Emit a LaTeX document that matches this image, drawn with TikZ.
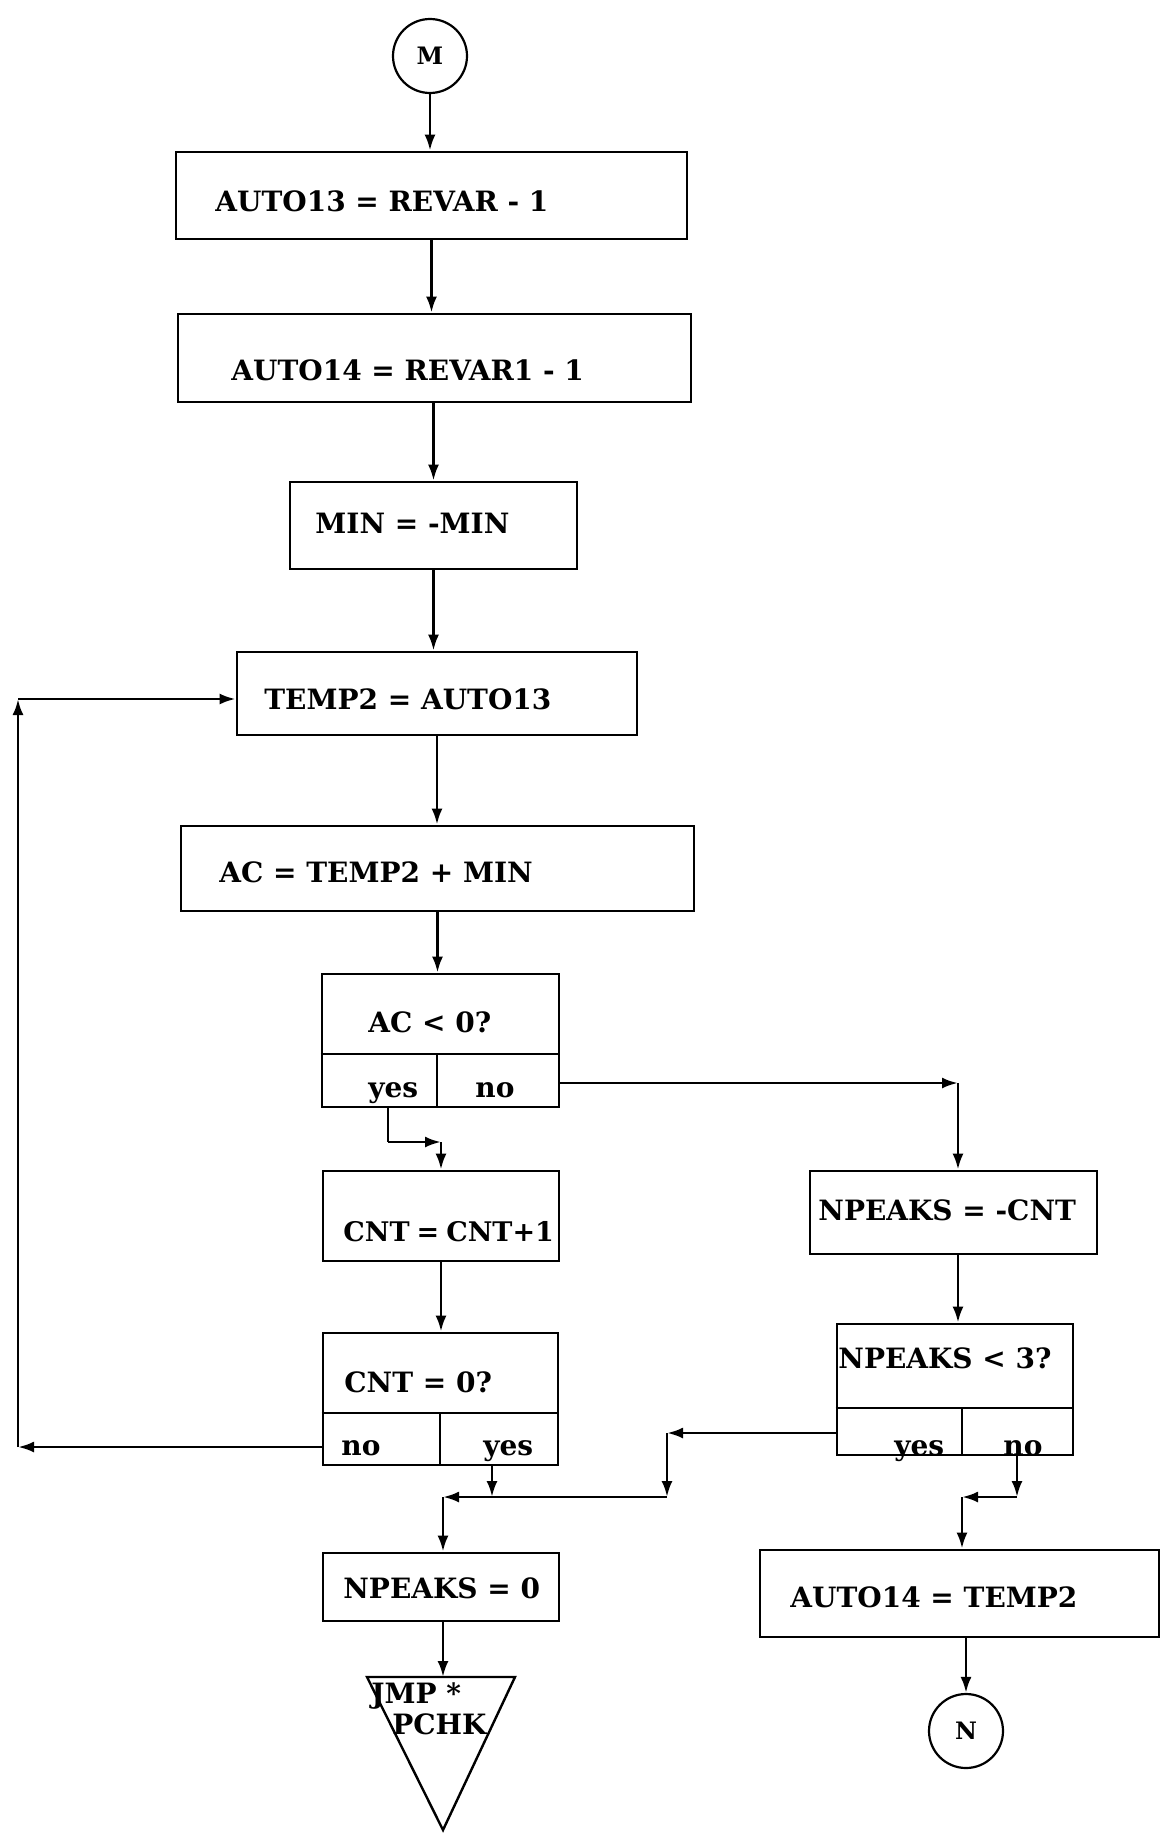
\documentclass[tikz,border=0pt]{standalone}
\usepackage{fontspec}
\setmainfont{DejaVu Serif}
\usetikzlibrary{arrows.meta}
\begin{document}
\begin{tikzpicture}[x=1pt,y=-1pt,
  line width=2.8pt,
  box/.style={draw, rectangle, inner sep=0pt, line width=2.8pt},
  txt/.style={anchor=base west, inner sep=0pt, font=\fontsize{28}{32}\selectfont\bfseries},
  arr/.style={-{Latex[length=16pt,width=11pt]}, line width=2.8pt},
  conn/.style={draw, circle, line width=2.2pt, minimum size=74pt, inner sep=0pt, font=\fontsize{24}{28}\selectfont\bfseries}]
\useasboundingbox[fill=white] (0,0) rectangle (1171,1836);

% connectors (circles)
\node[conn] (M) at (430,56) {M};
\node[conn] (N) at (966,1731) {N};

% process boxes
\node[box, minimum width=511pt, minimum height=87pt] (b1) at (431.5,195.5) {};
\node[txt] (t1) at (214,211) {AUTO13 = REVAR - 1};
\node[box, minimum width=513pt, minimum height=88pt] (b2) at (434.5,358) {};
\node[txt] (t2) at (230,380) {AUTO14 = REVAR1 - 1};
\node[box, minimum width=287pt, minimum height=87pt] (b3) at (433.5,525.5) {};
\node[txt] (t3) at (314,533) {MIN = -MIN};
\node[box, minimum width=400pt, minimum height=83pt] (b4) at (437,693.5) {};
\node[txt] (t4) at (263,709) {TEMP2 = AUTO13};
\node[box, minimum width=513pt, minimum height=85pt] (b5) at (437.5,868.5) {};
\node[txt] (t5) at (218,882) {AC = TEMP2 + MIN};

% decision AC<0?
\node[box, minimum width=237pt, minimum height=133pt] (d1) at (440.5,1040.5) {};
\draw (d1.west |- 0,1054) -- (d1.east |- 0,1054);
\draw (437,1054) -- (437,1107);
\node[txt] (q1) at (367,1032) {AC < 0?};
\node[txt] (y1) at (367,1097) {yes};
\node[txt] (n1) at (474,1097) {no};

\node[box, minimum width=236pt, minimum height=90pt] (b6) at (441,1216) {};
\node[txt, font=\fontsize{27}{32}\selectfont\bfseries] (t6) at (342,1241) {CNT\hspace{7pt}=\hspace{7pt}CNT+1};

% decision CNT=0?
\node[box, minimum width=235pt, minimum height=132pt] (d2) at (440.5,1399) {};
\draw (d2.west |- 0,1413) -- (d2.east |- 0,1413);
\draw (440,1413) -- (440,1465);
\node[txt] (q2) at (343,1392) {CNT = 0?};
\node[txt] (n2) at (340,1455) {no};
\node[txt] (y2) at (482,1455) {yes};

\node[box, minimum width=236pt, minimum height=68pt] (b7) at (441,1587) {};
\node[txt] (t7) at (342,1598) {NPEAKS = 0};

\node[box, minimum width=287pt, minimum height=83pt] (b8) at (953.5,1212.5) {};
\node[txt] (t8) at (817,1220) {NPEAKS = -CNT};

% decision NPEAKS<3?
\node[box, minimum width=236pt, minimum height=131pt] (d3) at (955,1389.5) {};
\draw (d3.west |- 0,1408) -- (d3.east |- 0,1408);
\draw (962,1408) -- (962,1455);
\node[txt] (q3) at (837,1368) {NPEAKS < 3?};
\node[txt] (y3) at (893,1455) {yes};
\node[txt] (n3) at (1002,1455) {no};

\node[box, minimum width=399pt, minimum height=87pt] (b9) at (959.5,1593.5) {};
\node[txt] (t9) at (789,1607) {AUTO14 = TEMP2};

% off-page triangle
\coordinate (tl) at (367,1677);
\coordinate (tr) at (515,1677);
\coordinate (tb) at (443,1830);
\coordinate (tt) at (443,1677);
\draw[line join=miter, line width=2.4pt] (tl) -- (tr) -- (tb) -- cycle;
\node[txt] (jm) at (370,1703) {JMP *};
\node[txt] (pc) at (391,1734) {PCHK};

% main flow
\draw[arr] (M.south) -- (M.south |- b1.north);
\draw[arr] (b1.south) -- (b1.south |- b2.north);
\draw[arr] (b2.south -| b3.north) -- (b3.north);
\draw[arr] (b3.south) -- (b3.south |- b4.north);
\draw[arr] (b4.south) -- (b4.south |- b5.north);
\draw[arr] (b5.south) -- (b5.south |- d1.north);

% AC<0 yes
\coordinate (j1) at (388,1142);
\draw (j1 |- d1.south) -- (j1);
\draw[arr] (j1) -- (b6.north |- j1);
\draw[arr] (b6.north |- j1) -- (b6.north);

% AC<0 no
\coordinate (j3) at (958,1083);
\draw[arr] (d1.east |- j3) -- (j3);
\draw[arr] (j3) -- (j3 |- b8.north);

\draw[arr] (b6.south) -- (b6.south |- d2.north);

% CNT=0 no -> loop back
\coordinate (L1) at (18,1447);
\coordinate (L2) at (18,699);
\draw[arr] (d2.west |- L1) -- (L1);
\draw[arr] (L1) -- (L2);
\draw[arr] (L2) -- (b4.west |- L2);

% CNT=0 yes
\coordinate (j4) at (492,1497);
\draw[arr] (j4 |- d2.south) -- (j4);
\coordinate (j5) at (667,1497);
\coordinate (j6) at (443,1497);
\draw[arr] (j5) -- (j6);
\draw[arr] (j6) -- (j6 |- b7.north);

% NPEAKS<3 yes
\coordinate (j7) at (667,1433);
\draw[arr] (d3.west |- j7) -- (j7);
\draw[arr] (j7) -- (j5);

\draw[arr] (b7.south -| tt) -- (tt);

\draw[arr] (b8.south -| j3) -- (j3 |- d3.north);

% NPEAKS<3 no
\coordinate (j8) at (1017,1497);
\draw[arr] (j8 |- d3.south) -- (j8);
\coordinate (j9) at (962,1497);
\draw[arr] (j8) -- (j9);
\draw[arr] (j9) -- (j9 |- b9.north);

\draw[arr] (b9.south -| N) -- (N.north);
\end{tikzpicture}
\end{document}
